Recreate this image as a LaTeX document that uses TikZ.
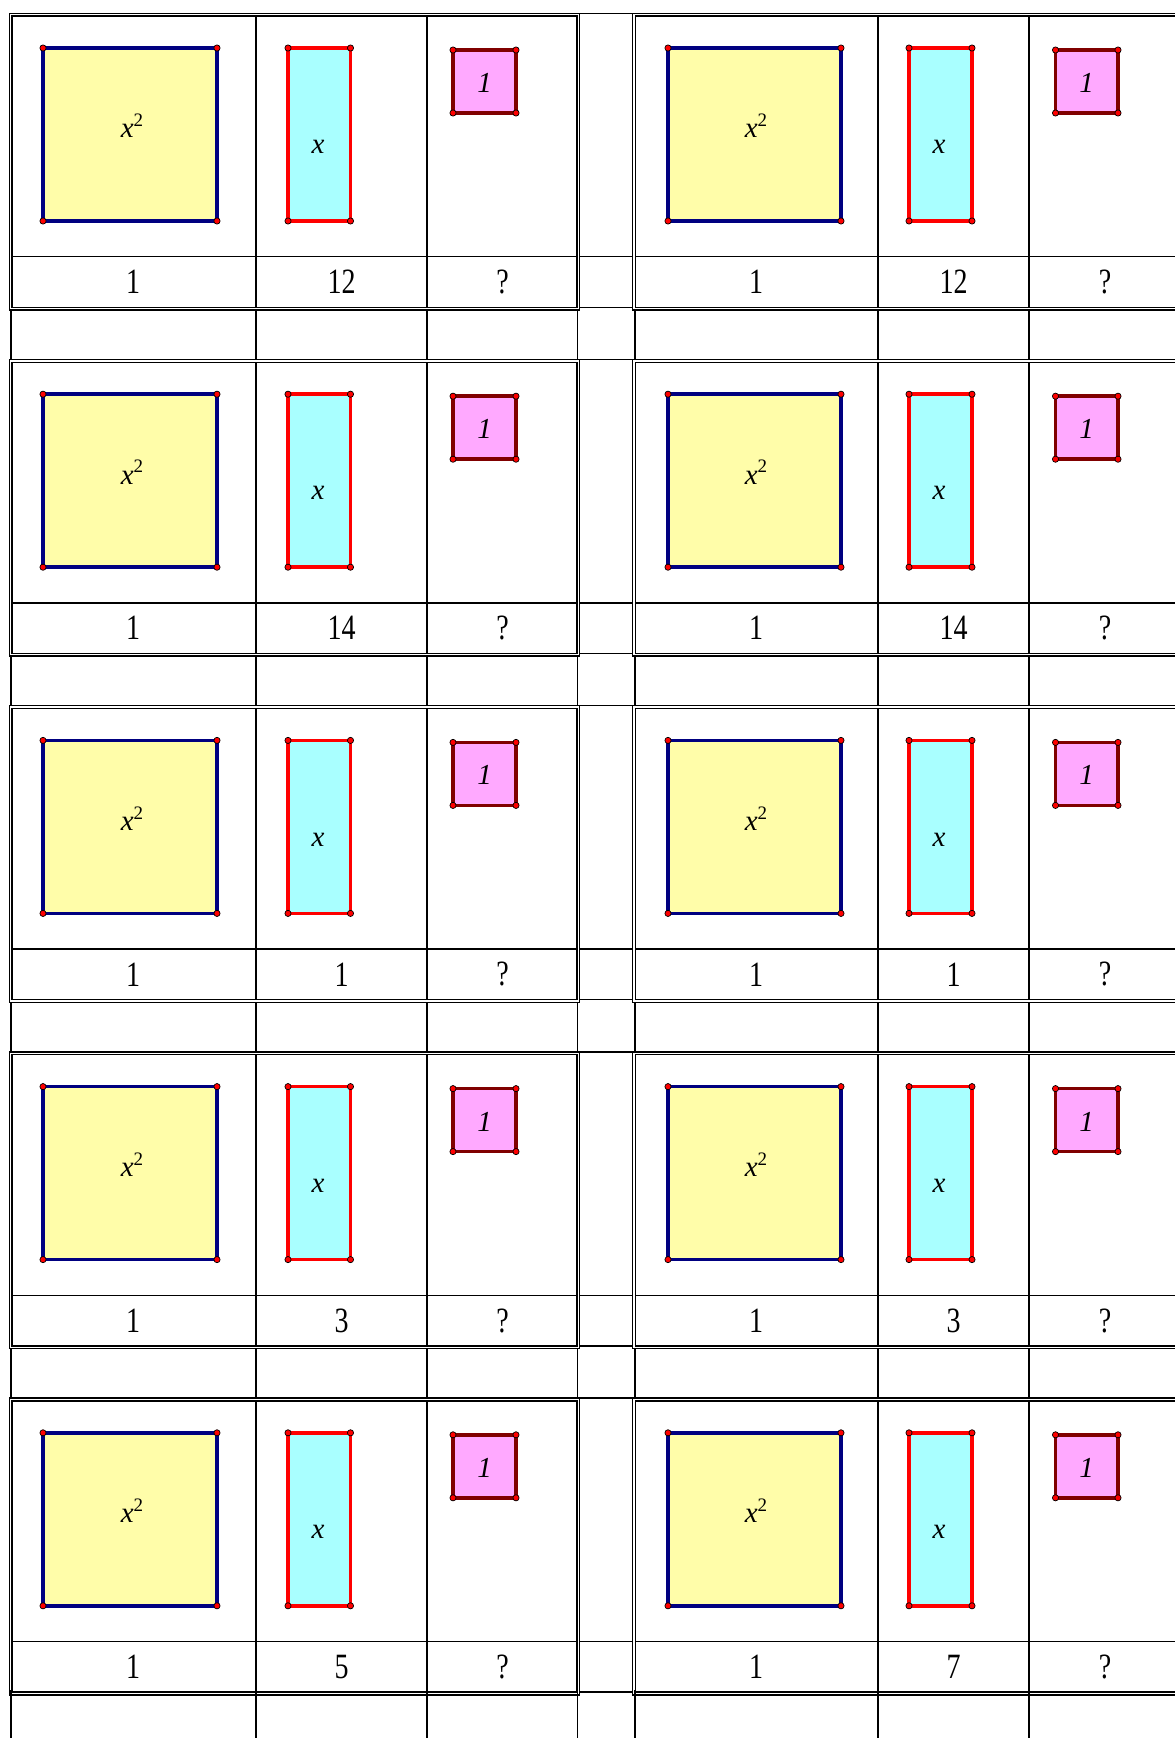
\documentclass[tikz,border=0pt]{standalone}
\usepackage{fontspec}
\usepackage{graphicx}
\newfontfamily\labfont{Liberation Serif}
\definecolor{navyc}{HTML}{000080}
\definecolor{yellowc}{HTML}{FFFDA9}
\definecolor{cyanc}{HTML}{A9FFFF}
\definecolor{pinkc}{HTML}{FFA9FF}
\definecolor{maroonc}{HTML}{800000}
\definecolor{redc}{HTML}{FF0000}
\tikzset{
  tblout/.style={line width=1.5pt, draw=black},
  tblin/.style={line width=1.4pt, draw=black},
  sqtile/.style={draw=navyc, fill=yellowc, line width=3.6pt},
  xtile/.style={draw=redc, fill=cyanc, line width=3.6pt},
  unittile/.style={draw=maroonc, fill=pinkc, line width=3.6pt},
  vdot/.style={fill=redc, draw=black, line width=0.7pt},
  tilelab/.style={font=\labfont\itshape\fontsize{29}{29}\selectfont, inner sep=0pt},
  numlab/.style={font=\labfont\fontsize{28}{28}\selectfont, inner sep=0pt},
}
\newcommand{\sqlab}{x\raisebox{0.38em}{\upshape\fontsize{19}{19}\selectfont 2}}
\newcommand{\tallnum}[1]{\scalebox{1}[1.27]{#1}}
\begin{document}
\begin{tikzpicture}[x=1pt,y=-1pt]
\useasboundingbox (0,0) rectangle (1175,1738);
\clip (0,0) rectangle (1175,1738);
\fill[white] (0,0) rectangle (1175,1738);
\foreach \k/\a/\b in {0/12/12, 1/14/14, 2/1/1, 3/3/3, 4/5/7} {
  \pgfmathsetmacro\o{346.2*\k}
  \begin{scope}[shift={(0,\o)}]
    % left nested table
    \draw[tblout] (9.3,13.3) rectangle (579.3,310);
    \draw[tblin] (12,16) rectangle (577,307.3);
    \draw[tblin] (12,256.7) -- (577,256.7);
    \draw[tblin] (256,16) -- (256,307.3) (427,16) -- (427,307.3);
    % right nested table
    \draw[tblout] (632.7,13.3) rectangle (1195,310);
    \draw[tblin] (635.7,16) rectangle (1192,307.3);
    \draw[tblin] (635.7,256.7) -- (1192,256.7);
    \draw[tblin] (878,16) -- (878,307.3) (1029,16) -- (1029,307.3);
    % gap column
    \draw[tblin] (579.3,13.3) -- (632.7,13.3) (579.3,256.7) -- (632.7,256.7) (579.3,307.3) -- (632.7,307.3);
    % blank row below
    \foreach \vx in {11,256,427,577.7,635,878,1029} {
      \draw[tblin] (\vx,310) -- (\vx,360);
    }
    % left tiles
    \filldraw[sqtile] (43,48) rectangle (217,221);
    \filldraw[xtile] (288,48) rectangle (350.5,221);
    \filldraw[unittile] (453,50) rectangle (516,113);
    \foreach \p in {(43,48),(217,48),(43,221),(217,221),(288,48),(350.5,48),(288,221),(350.5,221),(453,50),(516,50),(453,113),(516,113)} {
      \filldraw[vdot] \p circle (3.1);
    }
    \node[tilelab] (sqL\k) at (132,126) {\sqlab};
    \node[tilelab] (xL\k) at (318,147) {x};
    \node[tilelab] (uL\k) at (484.5,83) {1};
    \node[numlab] (nAL\k) at (133,282) {\tallnum{1}};
    \node[numlab] (nBL\k) at (341.5,282) {\tallnum{\a}};
    \node[numlab] (nCL\k) at (502.5,282) {\tallnum{?}};
    % right tiles
    \filldraw[sqtile] (668,48) rectangle (841,221);
    \filldraw[xtile] (909,48) rectangle (972,221);
    \filldraw[unittile] (1055.5,50) rectangle (1118,113);
    \foreach \p in {(668,48),(841,48),(668,221),(841,221),(909,48),(972,48),(909,221),(972,221),(1055.5,50),(1118,50),(1055.5,113),(1118,113)} {
      \filldraw[vdot] \p circle (3.1);
    }
    \node[tilelab] (sqR\k) at (756,126) {\sqlab};
    \node[tilelab] (xR\k) at (939,147) {x};
    \node[tilelab] (uR\k) at (1086.5,83) {1};
    \node[numlab] (nAR\k) at (756,282) {\tallnum{1}};
    \node[numlab] (nBR\k) at (953.5,282) {\tallnum{\b}};
    \node[numlab] (nCR\k) at (1105,282) {\tallnum{?}};
  \end{scope}
}
% extend last blank row to bottom
\foreach \vx in {11,256,427,577.7,635,878,1029} {
  \draw[tblin] (\vx,1690) -- (\vx,1740);
}
\end{tikzpicture}
\end{document}
